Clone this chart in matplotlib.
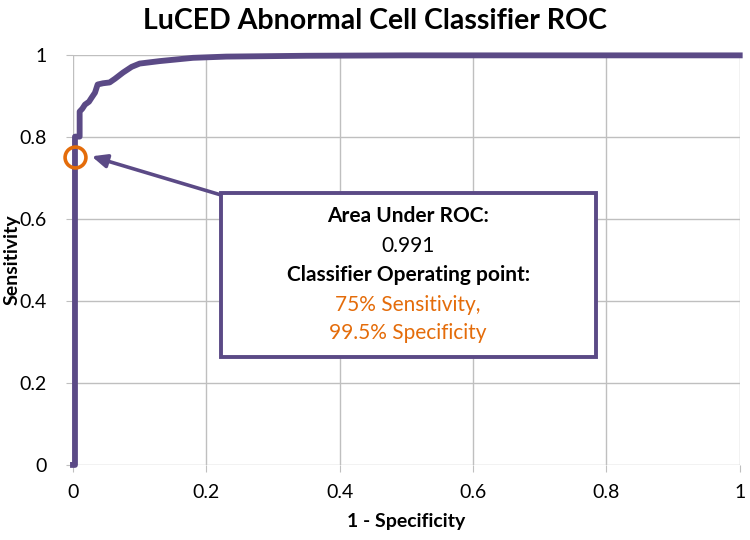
import matplotlib
matplotlib.use("Agg")
import matplotlib.pyplot as plt
from matplotlib.patches import Rectangle

# ROC curve data
fpr = [0.0, 0.003, 0.003, 0.010, 0.010, 0.014, 0.018, 0.024, 0.028, 0.033, 0.037, 0.045, 0.055, 0.063, 0.075, 0.088, 0.100, 0.130, 0.180, 0.230, 0.350, 0.500, 1.0]
tpr = [0.0, 0.0, 0.80, 0.80, 0.861, 0.868, 0.878, 0.885, 0.895, 0.907, 0.927, 0.930, 0.932, 0.941, 0.956, 0.970, 0.978, 0.984, 0.992, 0.995, 0.997, 0.998, 0.998]

op_x = [0.003]
op_y = [0.75]

xticks = [0, 0.2, 0.4, 0.6, 0.8, 1]
xtick_labels = ["0", "0.2", "0.4", "0.6", "0.8", "1"]
yticks = [0, 0.2, 0.4, 0.6, 0.8, 1]
ytick_labels = ["0", "0.2", "0.4", "0.6", "0.8", "1"]

title = "LuCED Abnormal Cell Classifier ROC"
xlabel = "1 - Specificity"
ylabel = "Sensitivity"

purple = "#5B4A86"
orange = "#E46C0A"
grid_c = "#BFBFBF"

plt.rcParams['font.family'] = ['Lato', 'DejaVu Sans']

fig = plt.figure(figsize=(7.5, 5.4), dpi=100)
ax = fig.add_axes([0.0973, 0.139, 0.889, 0.760])

ax.set_xlim(0, 1)
ax.set_ylim(0, 1)
ax.set_xticks(xticks)
ax.set_xticklabels(xtick_labels)
ax.set_yticks(yticks)
ax.set_yticklabels(ytick_labels)
ax.grid(True, color=grid_c, linewidth=1)
ax.set_axisbelow(True)
for s in ax.spines.values():
    s.set_visible(False)
ax.tick_params(axis='both', direction='out', length=5, color=grid_c, labelsize=14)
ax.tick_params(axis='y', pad=14)
ax.tick_params(axis='x', pad=9)

ax.plot(fpr, tpr, color=purple, linewidth=4.2, clip_on=False, zorder=3, solid_joinstyle='round')
ax.plot(op_x, op_y, marker='o', markersize=15, markerfacecolor='none', markeredgecolor=orange,
        markeredgewidth=2.6, linestyle='none', zorder=4, clip_on=False)

# Annotation box
bx0, bx1, by0, by1 = 0.2216, 0.784, 0.263, 0.663
ax.add_patch(Rectangle((bx0, by0), bx1 - bx0, by1 - by0, facecolor='white', edgecolor=purple,
                       linewidth=2.8, zorder=5))
ax.annotate("", xy=(0.028, 0.752), xytext=(bx0, by1 - 0.005),
            arrowprops=dict(arrowstyle='-|>,head_length=0.9,head_width=0.4', color=purple, lw=2.6,
                            shrinkA=0, shrinkB=0), zorder=4)

cx = (bx0 + bx1) / 2
lines = [("Area Under ROC:", 'bold', 'black'),
         ("0.991", 'normal', 'black'),
         ("Classifier Operating point:", 'bold', 'black'),
         ("75% Sensitivity,", 'normal', orange),
         ("99.5% Specificity", 'normal', orange)]
ys = [0.606, 0.534, 0.462, 0.389, 0.322]
for (t, w, c), yy in zip(lines, ys):
    ax.text(cx, yy, t, ha='center', va='center', fontsize=15, fontweight=w, color=c, zorder=6)

fig.text(0.5, 0.962, title, ha='center', va='center', fontsize=20.5, fontweight='bold')
ax.set_xlabel(xlabel, fontsize=14, fontweight='bold')
ax.set_ylabel(ylabel, fontsize=14, fontweight='bold')
ax.xaxis.set_label_coords(0.5, -0.117)
ax.yaxis.set_label_coords(-0.079, 0.5)

fig.savefig("out.png", dpi=100)
